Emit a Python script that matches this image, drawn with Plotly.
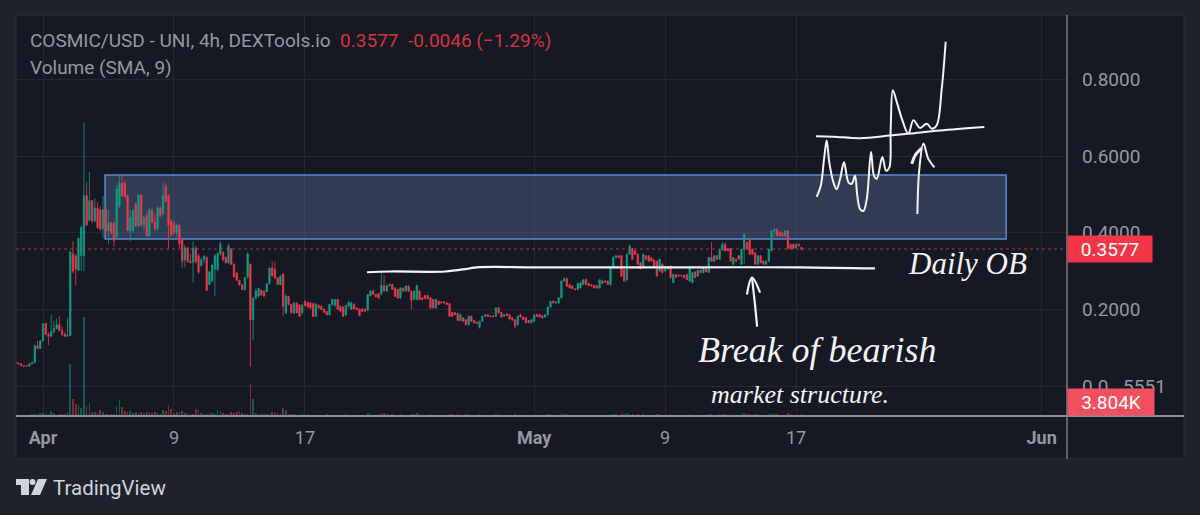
import pandas as pd
import plotly.graph_objects as go

# ---------- data ----------
opens = [
 .062,.060,.058,.053,.052,.052,.058,.062,.105,.098,
 .118,.163,.135,.130,.142,.150,.160,.145,.135,.130,
 .132,.345,.340,.302,.340,.340,.497,.432,.484,.431,
 .465,.460,.410,.460,.405,.425,.425,.390,.470,.530,
 .530,.497,.405,.405,.475,.418,.498,.420,.445,.392,
 .458,.428,.410,.465,.450,.521,.497,.430,.425,.400,
 .420,.383,.330,.361,.326,.322,.360,.340,.315,.330,
 .335,.265,.275,.305,.305,.345,.350,.335,.322,.358,
 .318,.295,.276,.264,.252,.285,.318,.173,.230,.235,
 .250,.248,.246,.267,.308,.305,.282,.265,.292,.190,.234,.213,.191,.217,.212,
 .192,.221,.218,.217,.215,.182,.210,.208,.201,.195,
 .186,.213,.210,.226,.208,.206,.186,.208,.201,.213,
 .204,.201,.200,.201,.198,.236,.248,.239,.241,.241,
 .262,.248,.262,.265,.256,.252,.230,.256,.248,.261,
 .248,.226,.226,.248,.230,.236,.236,.230,.226,.204,
 .221,.219,.220,.217,.215,.192,.191,.189,.171,.178,
 .173,.160,.182,.171,.166,.154,.169,.182,.186,.183,
 .183,.182,.204,.192,.182,.188,.186,.178,.173,.160,
 .186,.180,.178,.171,.165,.169,.186,.186,.183,.180,
 .186,.206,.221,.217,.217,.230,.274,.280,.265,.261,
 .254,.252,.256,.265,.278,.268,.265,.262,.262,.256,
 .268,.274,.274,.265,.309,.335,.340,.340,.304,.278,
 .344,.359,.353,.344,.322,.309,.340,.340,.335,.329,
 .326,.300,.318,.300,.306,.313,.270,.291,.289,.289,
 .289,.291,.274,.270,.298,.287,.302,.296,.306,.297,
 .335,.326,.340,.331,.355,.370,.359,.359,.318,.331,
 .340,.318,.357,.375,.383,.357,.348,.318,.340,.326,
 .318,.326,.353,.405,.409,.402,.399,.392,.405,.370,
 .370,.361,.370,.362,
]
highs = [
 .064,.061,.058,.054,.054,.060,.063,.108,.118,.120,
 .164,.165,.140,.186,.170,.176,.183,.155,.140,.178,
 .352,.379,.345,.388,.420,.689,.532,.558,.486,.490,
 .480,.470,.497,.468,.460,.430,.430,.525,.552,.552,
 .535,.500,.458,.460,.480,.502,.500,.445,.455,.465,
 .465,.450,.470,.470,.532,.528,.500,.436,.430,.425,
 .422,.386,.368,.362,.345,.378,.365,.345,.335,.342,
 .340,.300,.320,.345,.350,.378,.352,.338,.372,.360,
 .320,.297,.277,.266,.285,.350,.320,.230,.255,.257,
 .252,.250,.268,.310,.325,.325,.285,.290,.295,.240,.235,.215,.220,.218,.214,
 .214,.225,.220,.220,.218,.218,.214,.210,.203,.196,
 .213,.228,.228,.228,.210,.208,.212,.222,.220,.215,
 .206,.202,.204,.203,.240,.250,.252,.240,.243,.296,
 .290,.265,.268,.267,.258,.254,.258,.258,.263,.262,
 .250,.250,.265,.250,.232,.238,.238,.232,.228,.228,
 .223,.222,.222,.219,.217,.194,.193,.191,.188,.180,
 .175,.184,.184,.172,.168,.170,.184,.188,.188,.184,
 .184,.206,.206,.194,.188,.190,.188,.179,.175,.184,
 .190,.181,.180,.172,.175,.187,.190,.188,.185,.188,
 .208,.222,.224,.221,.232,.275,.284,.284,.267,.263,
 .256,.270,.272,.280,.280,.270,.266,.264,.264,.280,
 .278,.276,.275,.310,.340,.342,.342,.342,.306,.346,
 .370,.361,.355,.346,.324,.346,.342,.342,.337,.331,
 .328,.333,.320,.307,.313,.315,.293,.293,.291,.290,
 .290,.293,.311,.298,.300,.304,.304,.311,.308,.337,
 .376,.341,.342,.357,.376,.375,.361,.361,.337,.333,
 .342,.358,.399,.377,.385,.359,.350,.342,.342,.328,
 .328,.358,.407,.411,.411,.404,.401,.407,.407,.372,
 .372,.372,.372,.3623,
]
lows = [
 .058,.056,.052,.051,.051,.051,.057,.058,.095,.097,
 .117,.133,.107,.128,.138,.148,.143,.130,.128,.128,
 .130,.295,.263,.300,.300,.300,.418,.430,.425,.428,
 .410,.405,.385,.390,.370,.395,.365,.385,.465,.495,
 .490,.405,.378,.400,.415,.415,.415,.405,.392,.390,
 .425,.405,.405,.440,.445,.480,.358,.390,.395,.390,
 .360,.309,.310,.322,.320,.270,.320,.293,.310,.320,
 .248,.262,.270,.235,.300,.340,.325,.320,.318,.316,
 .283,.274,.262,.250,.248,.280,.050,.120,.225,.230,
 .235,.233,.245,.265,.285,.278,.264,.263,.183,.190,.211,.190,.188,.190,.180,
 .185,.207,.205,.202,.180,.180,.202,.198,.192,.184,
 .184,.210,.207,.198,.192,.180,.184,.205,.198,.200,
 .198,.183,.194,.194,.196,.234,.238,.232,.228,.236,
 .246,.246,.260,.250,.232,.228,.228,.246,.246,.246,
 .200,.224,.224,.224,.224,.227,.227,.203,.203,.202,
 .212,.216,.216,.212,.180,.180,.185,.170,.168,.168,
 .158,.158,.168,.164,.162,.150,.167,.180,.180,.180,
 .180,.180,.190,.178,.180,.183,.174,.171,.150,.158,
 .179,.172,.164,.164,.163,.167,.181,.179,.176,.178,
 .184,.204,.216,.215,.215,.228,.272,.259,.255,.253,
 .250,.250,.254,.263,.264,.261,.260,.255,.255,.254,
 .266,.270,.264,.262,.307,.333,.334,.285,.272,.272,
 .342,.329,.343,.316,.304,.307,.330,.325,.325,.308,
 .285,.298,.295,.298,.304,.281,.268,.283,.286,.286,
 .282,.277,.272,.268,.282,.285,.295,.294,.297,.295,
 .325,.324,.330,.329,.353,.352,.352,.325,.316,.325,
 .330,.316,.318,.356,.343,.343,.316,.316,.321,.316,
 .316,.324,.351,.390,.390,.390,.390,.390,.357,.357,
 .357,.359,.365,.354,
]
closes = [
 .060,.058,.053,.052,.052,.058,.062,.105,.098,.118,
 .163,.135,.130,.142,.150,.160,.145,.135,.130,.132,
 .350,.300,.305,.385,.414,.497,.420,.484,.431,.465,
 .414,.410,.460,.405,.425,.400,.380,.514,.530,.497,
 .495,.405,.440,.458,.418,.500,.420,.440,.392,.460,
 .428,.410,.465,.445,.497,.482,.420,.395,.400,.420,
 .372,.326,.361,.326,.322,.360,.325,.297,.330,.338,
 .250,.298,.315,.340,.345,.370,.330,.322,.366,.318,
 .285,.276,.264,.252,.283,.345,.173,.230,.248,.255,
 .238,.235,.267,.308,.288,.282,.265,.287,.208,.234,.213,.191,.217,.191,.182,
 .210,.210,.207,.204,.182,.213,.204,.200,.192,.186,
 .213,.226,.226,.200,.195,.182,.210,.218,.217,.201,
 .200,.184,.195,.195,.239,.248,.239,.233,.229,.262,
 .248,.262,.265,.252,.234,.230,.256,.248,.261,.248,
 .224,.248,.262,.226,.226,.228,.228,.204,.204,.226,
 .213,.217,.217,.213,.182,.182,.186,.171,.186,.169,
 .160,.182,.169,.165,.163,.169,.182,.186,.182,.181,
 .181,.204,.191,.180,.186,.184,.175,.172,.156,.182,
 .180,.173,.165,.165,.173,.185,.182,.180,.178,.186,
 .206,.221,.217,.219,.230,.274,.280,.261,.256,.254,
 .252,.268,.269,.277,.265,.262,.261,.256,.256,.277,
 .274,.271,.265,.309,.335,.340,.335,.287,.274,.344,
 .366,.331,.344,.318,.306,.344,.331,.326,.326,.309,
 .287,.331,.296,.306,.312,.283,.291,.284,.287,.287,
 .283,.278,.309,.296,.283,.302,.296,.309,.298,.335,
 .326,.340,.331,.355,.370,.353,.353,.326,.335,.326,
 .331,.357,.396,.357,.344,.344,.318,.340,.322,.318,
 .326,.357,.405,.409,.392,.392,.392,.405,.359,.359,
 .359,.370,.366,.3577,
]
volumes_k = [
 3,4,3,3,2,3,5,4,6,8,
 7,5,6,12,7,3,4,5,4,9,
 130,42,30,28,20,248,25,32,10,9,
 8,14,9,6,5,4,6,25,40,22,
 12,9,12,8,9,7,9,8,10,9,
 7,10,8,5,15,12,27,17,7,10,
 11,12,8,7,5,4,18,15,7,5,
 4,8,7,6,15,12,8,5,4,10,
 7,9,12,8,6,5,80,42,7,5,
 5,6,4,5,9,8,8,6,20,15,
 5,4,4,3,3,4,3,4,3,3,
 2,3,2,3,4,3,3,2,3,3,
 3,4,3,2,3,2,3,2,3,8,
 6,3,3,4,8,7,4,3,4,3,
 3,4,3,3,3,6,4,7,4,3,
 3,2,4,3,3,2,2,3,2,5,
 4,3,4,3,3,4,5,3,3,2,
 4,3,3,2,2,2,5,4,3,2,
 2,3,3,5,3,2,3,3,2,2,
 3,2,3,3,3,5,5,3,3,3,
 8,5,4,3,3,2,3,3,3,3,
 2,2,3,2,3,3,2,2,6,6,
 4,3,7,5,8,5,5,3,4,3,
 4,3,3,2,3,5,4,3,2,3,
 4,3,2,2,2,3,3,4,3,3,
 2,3,2,3,4,6,3,3,4,5,
 4,3,4,3,2,3,4,8,5,6,
 3,5,4,3,2,2,4,8,6,4,
 3,3,3,7,4,3,3,3,3.804,
]
n = len(closes)
for name, arr in (("opens", opens), ("highs", highs), ("lows", lows), ("volumes", volumes_k)):
    if len(arr) != n:
        raise ValueError(f"{name} has {len(arr)} values, closes has {n}")

tick_dates = ["2024-04-01", "2024-04-09", "2024-04-17", "2024-05-01", "2024-05-09", "2024-05-17", "2024-06-01"]
tick_labels = ["<b>Apr</b>", "9", "17", "<b>May</b>", "9", "17", "<b>Jun</b>"]
price_ticks = [0.0, 0.2, 0.4, 0.6, 0.8]
price_labels = ["0.0 ..5551", "0.2000", "0.4000", "0.6000", "0.8000"]
last_price = 0.3577
zone_low, zone_high = 0.384, 0.551
zone_start, zone_end = "2024-04-04 19:00", "2024-05-29 20:00"

# hand-drawn strokes: (days after Apr 1, price)
structure_days = [19.79, 21.2, 24.56, 25.9, 26.51, 30.05, 34.03, 40.13, 46.24, 50.82]
structure_prices = [.297, .299, .299, .306, .310, .310, .310, .310, .310, .307]
arrow_stem_days = [43.62, 43.49, 43.31]
arrow_stem_prices = [.155, .213, .283]
arrow_head_days = [43.0, 43.31, 43.8]
arrow_head_prices = [.239, .283, .244]
sketch_line_days = [47.22, 48.28, 49.91, 51.74, 52.96, 54.80, 57.50]
sketch_line_prices = [.652, .651, .647, .654, .659, .667, .676]
sketch_days = [47.26, 47.51, 47.71, 47.87, 48.03, 48.28, 48.48, 48.69, 48.93, 49.2, 49.4, 49.6, 49.74,
               49.91, 50.11, 50.32, 50.58, 50.76, 50.93, 51.27, 51.5, 51.7, 51.78, 51.91, 52.15, 52.46,
               52.86, 53.17, 53.57, 53.98, 54.29, 54.59, 54.9, 55.14]
sketch_prices = [.494, .523, .593, .641, .584, .532, .514, .541, .584, .532, .528, .549, .497,
                 .462, .457, .488, .611, .549, .541, .598, .562, .571, .672, .772, .742, .698,
                 .659, .694, .674, .685, .672, .681, .777, .899]
up_arrow_days = [53.41, 53.53, 53.78, 54.08, 54.45]
up_arrow_prices = [.449, .567, .633, .593, .571]
up_barb_days = [53.07, 53.27, 53.68]
up_barb_prices = [.58, .602, .621]

# ---------- styles ----------
PAGE = "#1f222d"
PANEL = "#161823"
GRID = "#252833"
UP = "#119c84"
DOWN = "#e73c4e"
LABEL = "#9598a1"
INK = "#f4f4f4"

W, L, T, B, R = 1051, 16, 15, 416, 1067
def px(x): return (x - L) / W
def py(y): return (B - y) / (B - T)

day0 = pd.Timestamp("2024-04-01")
def dates(days): return [day0 + pd.Timedelta(days=float(d)) for d in days]

times = pd.date_range("2024-03-30 08:00", periods=n, freq="4h")
vol_colors = ["rgba(231,60,78,0.5)" if c < o else "rgba(17,156,132,0.5)" for o, c in zip(opens, closes)]

fig = go.Figure()
fig.add_trace(go.Bar(x=times, y=volumes_k, yaxis="y2", marker_color=vol_colors, marker_line_width=0,
                     width=4 * 3600000 * 0.6, showlegend=False))
fig.add_trace(go.Candlestick(
    x=times, open=opens, high=highs, low=lows, close=closes, showlegend=False, whiskerwidth=0,
    increasing=dict(line=dict(color=UP, width=0.8), fillcolor=UP),
    decreasing=dict(line=dict(color=DOWN, width=0.8), fillcolor=DOWN)))

for xs, ys, w in [
    (structure_days, structure_prices, 2.2),
    (arrow_stem_days, arrow_stem_prices, 2.2),
    (arrow_head_days, arrow_head_prices, 2.2),
    (sketch_line_days, sketch_line_prices, 2),
    (sketch_days, sketch_prices, 2),
    (up_arrow_days, up_arrow_prices, 2),
    (up_barb_days, up_barb_prices, 3),
]:
    fig.add_trace(go.Scatter(x=dates(xs), y=ys, mode="lines", showlegend=False, hoverinfo="skip",
                             line=dict(color=INK, width=w, shape="spline", smoothing=1)))

shapes = [
    # panel furniture (drawn below traces)
    dict(type="rect", xref="paper", yref="paper", x0=px(16), x1=px(1184), y0=py(459), y1=py(15),
         fillcolor=PANEL, line=dict(color="#2a2e39", width=1), layer="below"),
    # order block
    dict(type="rect", xref="x", yref="y", x0=zone_start, x1=zone_end, y0=zone_low, y1=zone_high,
         fillcolor="rgba(80,98,137,0.48)", line=dict(color="#5b8bd2", width=1.5), layer="between"),
    # last price line
    dict(type="line", xref="paper", yref="y", x0=0, x1=1, y0=last_price, y1=last_price,
         line=dict(color="rgba(231,60,78,0.75)", width=1, dash="dot"), layer="above"),
    # axes
    dict(type="line", xref="paper", yref="paper", x0=px(16), x1=px(1184), y0=0, y1=0,
         line=dict(color="#8b8e98", width=2), layer="above"),
    dict(type="line", xref="paper", yref="paper", x0=1, x1=1, y0=py(459), y1=py(15),
         line=dict(color="#787b86", width=1.5), layer="above"),
    # TradingView logo
    dict(type="path", xref="paper", yref="paper", layer="above", line=dict(width=0), fillcolor="#d1d4dc",
         path=f"M {px(16)} {py(479)} L {px(29)} {py(479)} L {px(29)} {py(495)} L {px(21)} {py(495)} "
              f"L {px(21)} {py(485)} L {px(16)} {py(485)} Z"),
    dict(type="circle", xref="paper", yref="paper", layer="above", line=dict(width=0), fillcolor="#d1d4dc",
         x0=px(29.5), x1=px(35.5), y0=py(485), y1=py(479)),
    dict(type="path", xref="paper", yref="paper", layer="above", line=dict(width=0), fillcolor="#d1d4dc",
         path=f"M {px(38)} {py(479)} L {px(47)} {py(479)} L {px(40)} {py(495)} L {px(31)} {py(495)} Z"),
]

RED_TXT = "#d5343f"
title = (f"COSMIC/USD - UNI, 4h, DEXTools.io&nbsp;&nbsp;<span style='color:{RED_TXT}'>0.3577&nbsp;&nbsp;"
         f"-0.0046 (−1.29%)</span>")
annotations = [
    dict(text=title, x=px(27.5), y=py(40), xref="paper", yref="paper", xanchor="left", yanchor="middle",
         showarrow=False, font=dict(family="Roboto", size=19, color=LABEL)),
    dict(text="Volume (SMA, 9)", x=px(27.5), y=py(67), xref="paper", yref="paper", xanchor="left", yanchor="middle",
         showarrow=False, font=dict(family="Roboto", size=19, color=LABEL)),
    dict(text="0.3577", x=1, y=last_price, xref="paper", yref="y", xanchor="left", yanchor="middle",
         showarrow=False, width=84, height=26, bgcolor="#f23645", align="center", borderpad=0,
         font=dict(family="Roboto", size=19, color="#ffffff")),
    dict(text="3.804K", x=1, y=0, xref="paper", yref="paper", xanchor="left", yanchor="bottom",
         showarrow=False, width=86, height=26, bgcolor="#f2505e", align="center", borderpad=0,
         font=dict(family="Roboto", size=19, color="#ffffff")),
    dict(text="TradingView", x=px(51), y=py(488), xref="paper", yref="paper", xanchor="left", yanchor="middle",
         showarrow=False, font=dict(family="Roboto", size=20.5, color="#d1d4dc")),
    dict(text="<i>Daily OB</i>", x=px(967), y=py(263), xref="paper", yref="paper", xanchor="center",
         yanchor="middle", showarrow=False, font=dict(family="Liberation Serif", size=31, color=INK)),
    dict(text="<i>Break of bearish</i>", x=px(817), y=py(350), xref="paper", yref="paper", xanchor="center",
         yanchor="middle", showarrow=False, font=dict(family="Liberation Serif", size=36, color=INK)),
    dict(text="<i>market structure.</i>", x=px(800), y=py(394), xref="paper", yref="paper", xanchor="center",
         yanchor="middle", showarrow=False, font=dict(family="Liberation Serif", size=26, color=INK)),
]

fig.update_layout(
    width=1200, height=515, autosize=False,
    margin=dict(l=L, r=1200 - R, t=T, b=515 - B, pad=0),
    paper_bgcolor=PAGE, plot_bgcolor=PANEL, showlegend=False, bargap=0,
    xaxis=dict(type="date", range=["2024-03-30 08:25", "2024-06-02 13:12"], rangeslider=dict(visible=False),
               tickvals=tick_dates, ticktext=tick_labels, tickfont=dict(family="Roboto", size=18, color=LABEL),
               ticks="", showgrid=True, gridcolor=GRID, gridwidth=1, zeroline=False, showline=False,
               ticklabelstandoff=9),
    yaxis=dict(side="right", range=[-0.0783, 0.9687], tickvals=price_ticks, ticktext=price_labels,
               tickfont=dict(family="Roboto", size=19, color=LABEL), ticks="", showgrid=True, gridcolor=GRID,
               gridwidth=1, zeroline=False, showline=False, ticklabelstandoff=14),
    yaxis2=dict(overlaying="y", side="left", range=[0, 1000], visible=False, showgrid=False, zeroline=False),
    shapes=shapes, annotations=annotations,
)
fig.write_html("out.html", config={"displayModeBar": False},
               post_script="document.body.style.margin='0';document.body.style.background='#1f222d';document.documentElement.style.overflow='hidden';")
